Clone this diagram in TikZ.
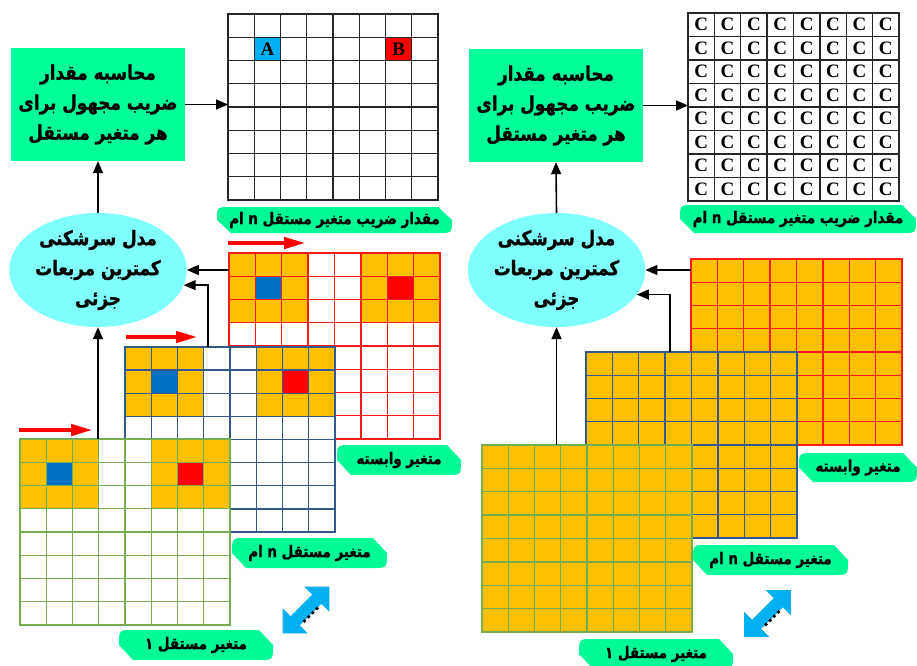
\documentclass[tikz,border=0pt]{standalone}
\usepackage{fontspec}
\usetikzlibrary{arrows.meta,calc,shapes.geometric}
\TeXXeTstate=1
\newfontfamily\fa[Script=Arabic,FakeStretch=0.84,BoldFeatures={FakeBold=1.2}]{DejaVu Sans}
\newfontfamily\tnr{Liberation Serif}
\definecolor{boxG}{HTML}{00FF99}
\definecolor{tagC}{HTML}{00FA96}
\definecolor{ellC}{HTML}{80FFFF}
\definecolor{orangeC}{HTML}{FFC000}
\definecolor{cellBlue}{HTML}{0070C0}
\definecolor{cellRed}{HTML}{FF0000}
\definecolor{cellA}{HTML}{00B0F0}
\definecolor{gridRed}{HTML}{FF1A1A}
\definecolor{gridBlue}{HTML}{34598A}
\definecolor{gridGreen}{HTML}{77AD50}
\definecolor{arrowBlue}{HTML}{00B0F0}

\newcommand\gridframe[6]{\node[gridbox, fill=#6, minimum width=#3pt, minimum height=#4pt] (#5) at (#1,#2) {};}
\newcommand\gridlines[5]{\foreach \ii in {0,...,8}{%
  \draw[gridline,#5] ({#1+\ii*#3/8},#2) -- ({#1+\ii*#3/8},{#2+#4});
  \draw[gridline,#5] (#1,{#2+\ii*#4/8}) -- ({#1+#3},{#2+\ii*#4/8});}}
\newcommand\gcell[7]{\fill[#7] ({#1+#5*#3/8},{#2+#6*#4/8}) rectangle ++({#3/8},{#4/8});}
\newcommand\blockpattern[4]{%
  \foreach \cc in {0,1,2,5,6,7}{\foreach \rr in {0,1,2}{\gcell{#1}{#2}{#3}{#4}{\cc}{\rr}{orangeC}}}%
  \gcell{#1}{#2}{#3}{#4}{1}{1}{cellBlue}%
  \gcell{#1}{#2}{#3}{#4}{6}{1}{cellRed}}
\newcommand\tagshape[6]{%
  \fill[tagC] (#1,{(#2+#4)/2}) .. controls (#1,#2) .. ({#1+14},#2) -- ({#3-14},#2) -- (#3,{(#2+#4)/2}) .. controls (#3,#4) .. ({#3-14},#4) -- ({#1+14},#4) -- cycle;
  \node[labtext] (#5) at ({(#1+#3)/2},{(#2+#4)/2}) {#6};}
\newcommand\dblarrow[3]{%
  \coordinate (#3) at (#1,#2);
  \begin{scope}[shift={(#3)}]
  \fill[arrowBlue] (23.3,-23.3) -- (23.3,1.7) -- (15.4,-6.2) -- (-6.2,15.4) -- (1.7,23.3) -- (-23.3,23.3)
     -- (-23.3,-1.7) -- (-15.4,6.2) -- (6.2,-15.4) -- (-1.7,-23.3) -- cycle;
  \fill[black] (-1.5,10.96) circle (1.9) (2.7,6.8) circle (1.9) (6.8,2.7) circle (1.9) (10.96,-1.5) circle (1.9);
  \end{scope}}

\begin{document}
\begin{tikzpicture}[x=1pt,y=-1pt,
  gridbox/.style={draw=none,inner sep=0pt,outer sep=0pt,anchor=north west},
  gridline/.style={line width=1.3pt,line cap=rect},
  boxstyle/.style={fill=boxG,minimum width=174pt,minimum height=113pt,inner sep=0pt,
     font=\fa\bfseries\fontsize{20}{30}\selectfont,align=center},
  ellstyle/.style={ellipse,fill=ellC,minimum width=174pt,minimum height=114pt,inner sep=0pt,
     font=\fa\bfseries\fontsize{20}{30}\selectfont,align=center},
  labtext/.style={font=\fa\bfseries\fontsize{16}{18}\selectfont,inner sep=0pt},
  cletter/.style={font=\tnr\bfseries\fontsize{19}{19}\selectfont,inner sep=0pt},
  conn/.style={line width=1.6pt,-{Triangle[length=12pt,width=10pt]}},
  redarrow/.style={red,line width=4.5pt,-{Triangle[length=22pt,width=11pt]}}]
\useasboundingbox (0,0) rectangle (917,665);
\fill[white] (0,0) rectangle (917,665);
\clip (0,0) rectangle (917,665);

% ================= LEFT PANEL =================
\node[boxstyle] (boxL) at (98,104.5) {\beginR محاسبه مقدار\endR\\\beginR ضریب مجهول برای\endR\\\beginR هر متغیر مستقل\endR};
\node[ellstyle] (ellL) at (98,270) {\beginR مدل سرشکنی\endR\\\beginR کمترین مربعات\endR\\\beginR جزئی\endR};

% top coefficient grid
\gridframe{228}{14}{210}{186}{gridTL}{white}
\gcell{228}{14}{210}{186}{1}{1}{cellA}
\gcell{228}{14}{210}{186}{6}{1}{cellRed}
\gridlines{228}{14}{210}{186}{black!85}
\node[cletter] (letA) at ({228+1.5*210/8},{14+1.5*186/8}) {A};
\node[cletter] (letB) at ({228+6.5*210/8},{14+1.5*186/8}) {B};
\tagshape{217}{207}{452}{233}{tagTL}{\beginR مقدار ضریب متغیر مستقل n ام\endR}

% dependent (red)
\gridframe{229}{253}{211}{186}{redL}{white}
\blockpattern{229}{253}{211}{186}
\gridlines{229}{253}{211}{186}{gridRed}
% n-th independent (blue)
\gridframe{125}{347}{210}{185}{blueL}{white}
\blockpattern{125}{347}{210}{185}
\gridlines{125}{347}{210}{185}{gridBlue}
% 1st independent (green)
\gridframe{20}{439}{210}{186}{greenL}{white}
\blockpattern{20}{439}{210}{186}
\gridlines{20}{439}{210}{186}{gridGreen}

\tagshape{337}{445}{461}{475}{tagDepL}{\beginR متغیر وابسته\endR}
\tagshape{232}{538}{387}{568}{tagNL}{\beginR متغیر مستقل n ام\endR}
\tagshape{119}{630}{273}{660}{tag1L}{\beginR متغیر مستقل ۱\endR}

% red moving-window arrows
\coordinate (ra1s) at (228,243); \coordinate (ra1e) at (306,243);
\coordinate (ra2s) at (126,337); \coordinate (ra2e) at (198,337);
\coordinate (ra3s) at (19,430);  \coordinate (ra3e) at (93,430);
\draw[redarrow] (ra1s) -- (ra1e);
\draw[redarrow] (ra2s) -- (ra2e);
\draw[redarrow] (ra3s) -- (ra3e);

% connectors
\draw[conn] (boxL.east) -- (gridTL.west |- boxL.east);
\draw[conn] (ellL.north) -- (boxL.south);
\draw[conn] (redL.west |- ellL.east) -- (ellL.east);
\draw[conn] ($(blueL.north west)+(83,0)$) |- (ellL.-10);
\draw[conn] (ellL.south |- greenL.north) -- (ellL.south);

\dblarrow{306}{610}{dblL}

% ================= RIGHT PANEL =================
\node[boxstyle] (boxR) at (556,105.5) {\beginR محاسبه مقدار\endR\\\beginR ضریب مجهول برای\endR\\\beginR هر متغیر مستقل\endR};
\node[ellstyle] (ellR) at (556.5,270) {\beginR مدل سرشکنی\endR\\\beginR کمترین مربعات\endR\\\beginR جزئی\endR};

\gridframe{688}{13}{211}{188}{gridTR}{white}
\gridlines{688}{13}{211}{188}{black!85}
\foreach \rr in {0,...,7}{\foreach \cc in {0,...,7}{
  \node[cletter] (C-\rr-\cc) at ({688+(\cc+0.5)*211/8},{13+(\rr+0.5)*188/8}) {C};}}
\tagshape{680}{205}{916}{233}{tagTR}{\beginR مقدار ضریب متغیر مستقل n ام\endR}

\gridframe{691}{259}{211}{186}{redR}{orangeC}
\gridlines{691}{259}{211}{186}{gridRed}
\gridframe{586}{352}{211}{186}{blueR}{orangeC}
\gridlines{586}{352}{211}{186}{gridBlue}
\gridframe{482}{445}{210}{187}{greenR}{orangeC}
\gridlines{482}{445}{210}{187}{gridGreen}

\tagshape{799}{453}{917}{482}{tagDepR}{\beginR متغیر وابسته\endR}
\tagshape{693}{545}{848}{575}{tagNR}{\beginR متغیر مستقل n ام\endR}
\tagshape{579}{639}{733}{669}{tag1R}{\beginR متغیر مستقل ۱\endR}

\draw[conn] (boxR.east) -- (gridTR.west |- boxR.east);
\draw[conn] (ellR.north) -- (boxR.south);
\draw[conn] (redR.west |- ellR.east) -- (ellR.east);
\draw[conn] ($(blueR.north west)+(84,0)$) |- (ellR.-17);
\draw[conn] (ellR.south |- greenR.north) -- (ellR.south);

\dblarrow{767.5}{613.5}{dblR}
\end{tikzpicture}
\end{document}
